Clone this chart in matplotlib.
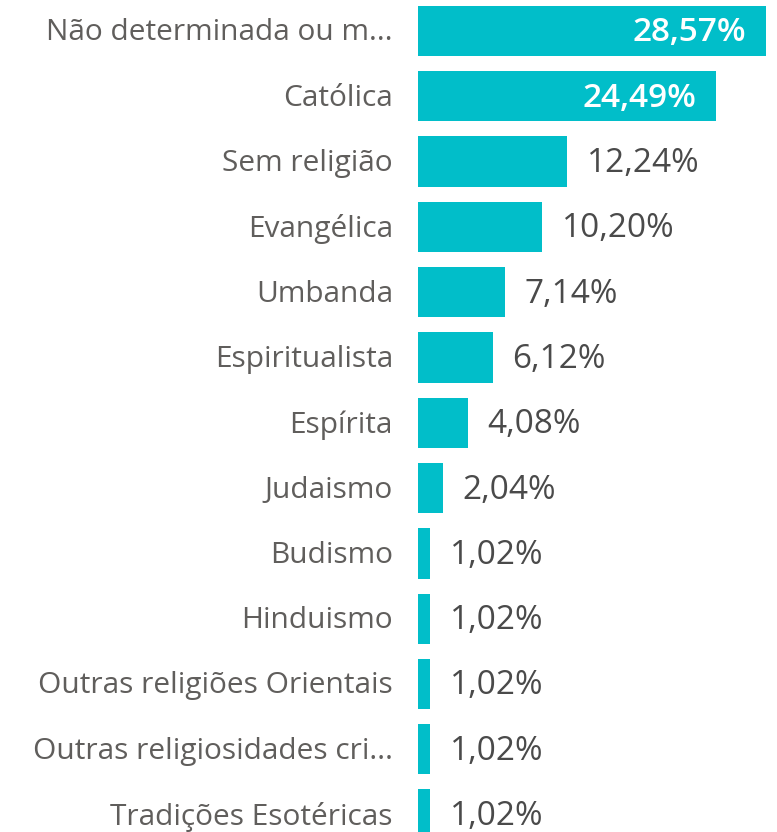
import matplotlib.pyplot as plt

categories = ["Não determinada ou m...", "Católica", "Sem religião", "Evangélica",
              "Umbanda", "Espiritualista", "Espírita", "Judaismo", "Budismo",
              "Hinduismo", "Outras religiões Orientais",
              "Outras religiosidades cri...", "Tradições Esotéricas"]
values = [28.57, 24.49, 12.24, 10.20, 7.14, 6.12, 4.08, 2.04, 1.02, 1.02, 1.02, 1.02, 1.02]
labels = ["28,57%", "24,49%", "12,24%", "10,20%", "7,14%", "6,12%", "4,08%",
          "2,04%", "1,02%", "1,02%", "1,02%", "1,02%", "1,02%"]

W, H = 777, 832
fig = plt.figure(figsize=(W / 100, H / 100), dpi=100)
ax = fig.add_axes([418 / W, 0, (W - 418) / W, 1])

pitch = 65.3
ypos = list(range(len(categories)))
ax.barh(ypos, values, height=0.77, color="#01BEC9")
ax.set_xlim(0, (W - 418) / 12.18)
ax.set_ylim((H - 31) / pitch, -31 / pitch)
ax.axis("off")

font = "Open Sans"
px = 1 / 12.18  # data units per pixel in x
for i, (cat, v, lab) in enumerate(zip(categories, values, labels)):
    ax.text(-25 * px, i + 0.03, cat, ha="right", va="center", fontsize=21.5,
            color="#605E5C", family=font)
    if v > 20:
        ax.text(v - 20 * px, i + 0.03, lab, ha="right", va="center", fontsize=24,
                color="white", family=font, fontweight="semibold")
    else:
        ax.text(v + 20 * px, i + 0.03, lab, ha="left", va="center", fontsize=24,
                color="#4A4A4A", family=font)

fig.savefig("out.png", dpi=100)
